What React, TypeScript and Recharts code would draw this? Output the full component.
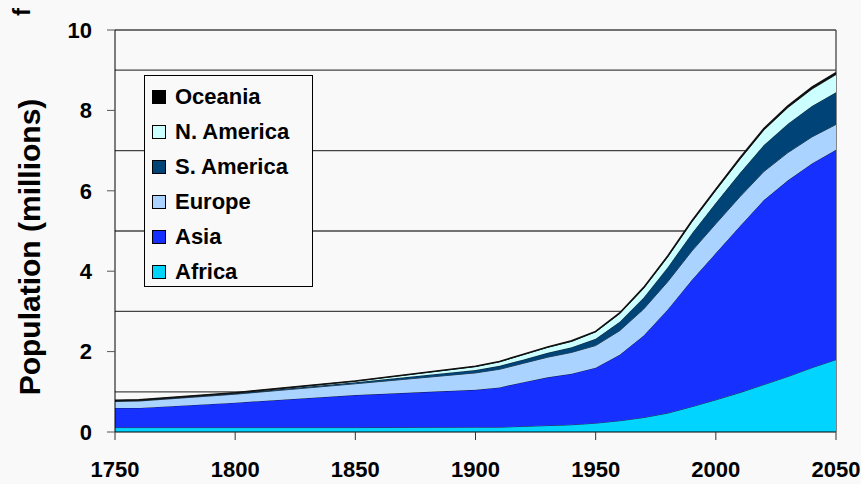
import React from "react";
import { Area, AreaChart, CartesianGrid, Label, XAxis, YAxis } from "recharts";

// population by region (billions, although the axis says millions)
const years = [1750, 1760, 1800, 1850, 1900, 1910, 1920, 1930, 1940, 1950, 1960, 1970, 1980, 1990, 2000, 2010, 2020, 2030, 2040, 2050];
const africa = [0.11, 0.11, 0.11, 0.11, 0.12, 0.12, 0.14, 0.16, 0.18, 0.22, 0.28, 0.36, 0.47, 0.63, 0.8, 0.98, 1.18, 1.38, 1.6, 1.8];
const asia = [0.49, 0.49, 0.62, 0.81, 0.93, 0.99, 1.1, 1.2, 1.27, 1.38, 1.64, 2.04, 2.58, 3.15, 3.65, 4.14, 4.59, 4.88, 5.08, 5.22];
const europe = [0.16, 0.17, 0.21, 0.28, 0.42, 0.45, 0.47, 0.5, 0.53, 0.55, 0.6, 0.66, 0.69, 0.72, 0.73, 0.73, 0.71, 0.69, 0.66, 0.63];
const sAmerica = [0.016, 0.018, 0.024, 0.038, 0.074, 0.085, 0.095, 0.11, 0.13, 0.167, 0.22, 0.285, 0.36, 0.44, 0.52, 0.59, 0.66, 0.72, 0.77, 0.8];
const nAmerica = [0.004, 0.005, 0.008, 0.026, 0.082, 0.1, 0.12, 0.135, 0.145, 0.172, 0.204, 0.232, 0.256, 0.282, 0.31, 0.34, 0.37, 0.4, 0.42, 0.44];
const oceania = [0.006, 0.006, 0.006, 0.006, 0.008, 0.009, 0.01, 0.011, 0.012, 0.014, 0.017, 0.02, 0.023, 0.027, 0.031, 0.036, 0.04, 0.043, 0.045, 0.047];

const xTicks = [1750, 1800, 1850, 1900, 1950, 2000, 2050];
const yTicks = [0, 2, 4, 6, 8, 10];
const gridValues = [1, 3, 5, 7, 9, 10];

const series = [
  { key: "africa", name: "Africa", color: "#00d4ff" },
  { key: "asia", name: "Asia", color: "#1530ff" },
  { key: "europe", name: "Europe", color: "#aad4ff" },
  { key: "sAmerica", name: "S. America", color: "#004477" },
  { key: "nAmerica", name: "N. America", color: "#ccffff" },
  { key: "oceania", name: "Oceania", color: "#000000" },
];

const data = years.map((year, i) => ({
  year,
  africa: africa[i],
  asia: asia[i],
  europe: europe[i],
  sAmerica: sAmerica[i],
  nAmerica: nAmerica[i],
  oceania: oceania[i],
}));

const FONT = "'Liberation Sans', Arial, sans-serif";

// legend sits on top of the plot, so it is drawn outside recharts' layout
function LegendBox() {
  const rows = [...series].reverse();
  return (
    <div
      style={{
        position: "absolute",
        left: 144,
        top: 75,
        width: 169,
        height: 212,
        border: "1px solid #000",
        background: "#f9f9f9",
        boxSizing: "border-box",
        paddingTop: 3,
        fontFamily: FONT,
      }}
    >
      {rows.map((s) => (
        <div key={s.key} style={{ display: "flex", alignItems: "center", height: 35, paddingLeft: 7 }}>
          <span
            style={{
              width: 14,
              height: 14,
              background: s.color,
              border: "1px solid #000",
              boxSizing: "border-box",
              marginRight: 9,
            }}
          />
          <span style={{ fontSize: 22, fontWeight: "bold", color: "#000", lineHeight: "35px" }}>{s.name}</span>
        </div>
      ))}
    </div>
  );
}

export default function App() {
  return (
    <div style={{ width: 861, height: 484, background: "#f9f9f9", position: "relative" }}>
      <style>{"body{margin:0;background:#f9f9f9}"}</style>
      <AreaChart width={861} height={484} data={data} margin={{ top: 30, right: 25, left: 0, bottom: 0 }}>
        <CartesianGrid
          horizontalValues={gridValues}
          verticalValues={[2050]}
          stroke="#444"
          strokeWidth={1.3}
        />
        <XAxis
          dataKey="year"
          type="number"
          domain={[1750, 2050]}
          ticks={xTicks}
          height={52}
          tickSize={8}
          tickMargin={21}
          stroke="#000"
          tick={{ fill: "#000", fontSize: 22, fontWeight: "bold", fontFamily: FONT }}
          tickLine={{ stroke: "#333" }}
        />
        <YAxis
          type="number"
          domain={[0, 10]}
          ticks={yTicks}
          width={115}
          tickSize={8}
          tickMargin={15}
          stroke="#000"
          tick={{ fill: "#000", fontSize: 22, fontWeight: "bold", fontFamily: FONT }}
          tickLine={{ stroke: "#555" }}
        >
          <Label
            content={() => (
              <g fontFamily={FONT} fontWeight="bold" fill="#000">
                <text x={40} y={247} fontSize={30} textAnchor="middle" transform="rotate(-90 40 247)">
                  Population (millions)
                </text>
                <text x={30} y={12} fontSize={24} textAnchor="middle" transform="rotate(-90 30 12)">
                  f
                </text>
              </g>
            )}
          />
        </YAxis>
        {series.map((s) => (
          <Area
            key={s.key}
            type="linear"
            dataKey={s.key}
            name={s.name}
            stackId="pop"
            fill={s.color}
            fillOpacity={1}
            stroke="#111"
            strokeWidth={s.key === "oceania" ? 1.6 : 0.8}
            isAnimationActive={false}
            dot={false}
            activeDot={false}
          />
        ))}
      </AreaChart>
      <LegendBox />
    </div>
  );
}
